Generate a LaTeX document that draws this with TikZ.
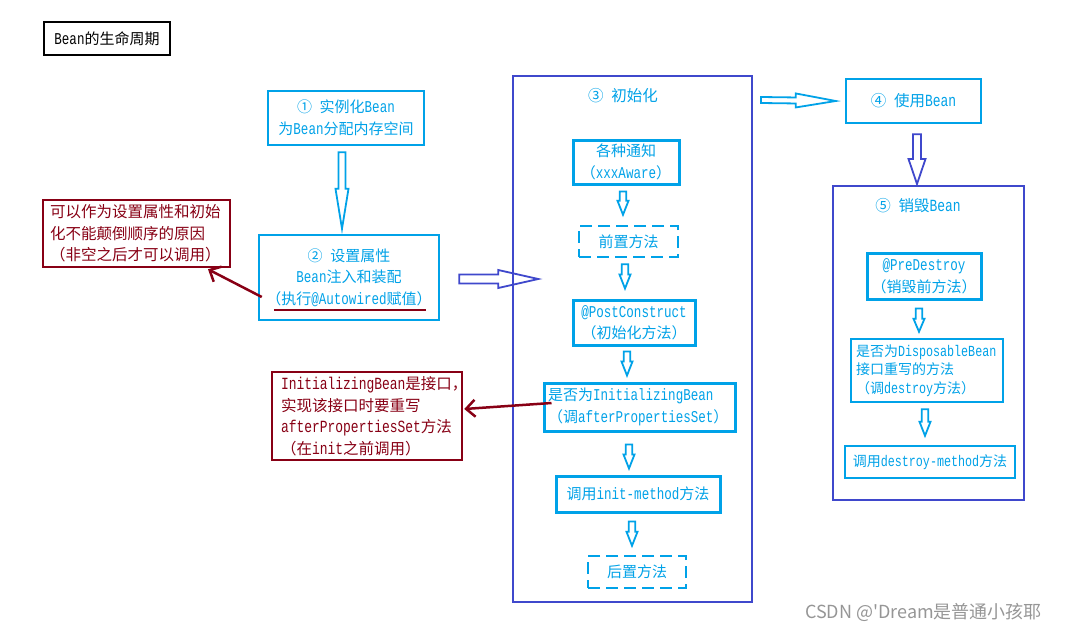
\documentclass[tikz,border=0pt]{standalone}
\usepackage{fontspec}
\setmainfont{Liberation Mono}[Scale=1.1,FakeStretch=0.76]
\newfontfamily\cjkf{Noto Sans CJK SC}
\newfontfamily\wmf{Noto Sans CJK SC}[Ligatures=TeXOff]
\newcommand\C[1]{{\cjkf #1}}
\usetikzlibrary{calc,arrows.meta}
\definecolor{lb}{HTML}{00A2E8}
\definecolor{ind}{HTML}{3F48CC}
\definecolor{dr}{HTML}{880015}
\definecolor{wmc}{RGB}{150,150,150}
% hollow block arrow: #1 style, #2 start, #3 end, #4 shaft half width, #5 head half width, #6 head length
\newcommand\hollowarrow[6]{%
  \coordinate (hc) at ($(#3)!#6pt!(#2)$);
  \draw[#1] ($(#2)!#4pt!90:(#3)$) -- ($(hc)!#4pt!90:(#3)$) -- ($(hc)!#5pt!90:(#3)$)
    -- (#3) -- ($(hc)!#5pt!-90:(#3)$) -- ($(hc)!#4pt!-90:(#3)$) -- ($(#2)!#4pt!-90:(#3)$) -- cycle;
}
\begin{document}
\begin{tikzpicture}[x=1pt,y=-1pt,
  f15/.style={font=\fontsize{15}{21.5}\selectfont},
  box/.style={draw=lb, line width=2.5pt, text=lb, align=center, inner sep=0pt, f15},
  dbox/.style={box, dash pattern=on 12pt off 6pt},
  cont/.style={draw=ind, line width=2pt, inner sep=0pt},
  note/.style={draw=dr, line width=2.5pt, text=dr, align=left, inner ysep=0pt, font=\fontsize{15.5}{21.5}\selectfont},
  lbl/.style={text=lb, inner sep=0pt, font=\fontsize{15.5}{20}\selectfont},
  harr/.style={draw=lb, line width=1.8pt, line join=miter},
  harri/.style={draw=ind, line width=1.8pt, line join=miter},
  rarr/.style={draw=dr, line width=2.5pt, -{Straight Barb[length=9pt,width=17pt]}}
]
\useasboundingbox[fill=white] (0,0) rectangle (1066,632);

% title
\node[draw=black, line width=2.5pt, inner sep=0pt, minimum width=126, minimum height=33, f15] (title) at (107,38.5) {Bean\C{的生命周期}};

% step 1 and 2
\node[box, minimum width=156, minimum height=54] (b1) at (346,118) {\C{①} \C{实例化}Bean\\\C{为}Bean\C{分配内存空间}};
\node[box, minimum width=180, minimum height=85] (b2) at (349,277.5) {\C{②} \C{设置属性}\\Bean\C{注入和装配}\\\C{（执行}@Autowired\C{赋值）}};
\node[note, text width=173, inner xsep=7pt, minimum height=67] (n1) at (136.5,233.5) {\C{可以作为设置属性和初始}\\\C{化不能颠倒顺序的原因}\\\C{（非空之后才可以调用）}};

% init container
\node[cont, minimum width=239, minimum height=526] (init) at (632.5,339) {};
\node[lbl] (initT) at (623,96) {\C{③} \C{初始化}};
\node[box, line width=3pt, minimum width=106, minimum height=44] (aware) at (626,162) {\C{各种通知}\\\C{（}xxxAware\C{）}};
\node[dbox, minimum width=99, minimum height=31] (pre) at (628.5,241.5) {\C{前置方法}};
\node[box, line width=3pt, minimum width=122, minimum height=45] (post) at (634,322.5) {@PostConstruct\\\C{（初始化方法）}};
\node[box, line width=3pt, align=left, text width=183, inner xsep=4pt, minimum height=48] (ib) at (639.5,407) {\C{是否为}InitializingBean\\\C{（调}afterPropertiesSet\C{）}};
\node[box, line width=3pt, minimum width=164, minimum height=36] (initm) at (638,494) {\C{调用}init-method\C{方法}};
\node[dbox, minimum width=98, minimum height=32] (postm) at (637,572) {\C{后置方法}};
\node[note, text width=172, inner xsep=9pt, minimum height=88] (n2) at (367,416) {InitializingBean\C{是接口，}\\\C{实现该接口时要重写}\\afterPropertiesSet\C{方法}\\\C{（在}init\C{之前调用）}};

% use and destroy
\node[box, minimum width=135, minimum height=44, font=\fontsize{15.5}{20}\selectfont] (use) at (913.5,101) {\C{④} \C{使用}Bean};
\node[cont, minimum width=191, minimum height=314] (dc) at (928.5,343) {};
\node[lbl] (dT) at (918,206) {\C{⑤} \C{销毁}Bean};
\node[box, line width=3pt, minimum width=114, minimum height=46] (pred) at (924,276) {@PreDestroy\\\C{（销毁前方法）}};
\node[box, line width=2.5pt, align=left, text width=142, inner xsep=5pt, minimum height=63, font=\fontsize{14}{18.5}\selectfont] (disp) at (927,370.5) {\C{是否为}DisposableBean\\\C{接口重写的方法}\\\C{（调}destroy\C{方法）}};
\node[box, line width=2.5pt, minimum width=170, minimum height=32, font=\fontsize{14}{18}\selectfont] (dm) at (930,462) {\C{调用}destroy-method\C{方法}};

% watermark
\node[text=wmc, inner sep=0pt, font=\wmf\fontsize{18}{20}\selectfont] (wm) at (923.5,612) {CSDN @'Dream是普通小孩耶};

% hollow arrows
\coordinate (a12s) at ($(b1.south)+(-4,6)$);
\coordinate (a12e) at ($(b2.north)+(-7,-5)$);
\hollowarrow{harr}{a12s}{a12e}{3.5}{6.5}{40}
\coordinate (a2is) at ($(b2.east)+(19,1.5)$);
\coordinate (a2ie) at ($(b2.east)+(98,1.5)$);
\hollowarrow{harri}{a2is}{a2ie}{4.5}{9}{40}
\coordinate (aaws) at ($(aware.south)+(-3,6)$);
\coordinate (aawe) at ($(pre.north)+(-5.5,-10)$);
\hollowarrow{harr}{aaws}{aawe}{3.3}{5.5}{14}
\coordinate (apres) at ($(pre.south)+(-3.5,6)$);
\coordinate (apree) at ($(post.north)+(-9,-10)$);
\hollowarrow{harr}{apres}{apree}{3.3}{5.5}{14}
\coordinate (aposts) at ($(post.south)+(-7,5)$);
\coordinate (aposte) at ($(ib.north)+(-12.5,-6)$);
\hollowarrow{harr}{aposts}{aposte}{3.3}{5.5}{14}
\coordinate (aibs) at ($(ib.south)+(-10.5,12)$);
\coordinate (aibe) at ($(initm.north)+(-9,-6)$);
\hollowarrow{harr}{aibs}{aibe}{3.3}{5.5}{14}
\coordinate (aims) at ($(initm.south)+(-6,8)$);
\coordinate (aime) at ($(postm.north)+(-5,-9)$);
\hollowarrow{harr}{aims}{aime}{3.3}{5.5}{14}
\coordinate (ause) at ($(init.north east)+(8,25)$);
\coordinate (ausee) at ($(use.west)+(-9,0)$);
\hollowarrow{harr}{ause}{ausee}{3}{7}{40}
\coordinate (auds) at ($(use.south)+(3.5,10)$);
\coordinate (aude) at ($(dc.north)+(-11.5,-1)$);
\hollowarrow{harri}{auds}{aude}{4}{8.5}{25}
\coordinate (apds) at ($(pred.south)+(-5,8)$);
\coordinate (apde) at ($(disp.north)+(-8,-6)$);
\hollowarrow{harr}{apds}{apde}{3.3}{5.5}{13}
\coordinate (adds) at ($(disp.south)+(-2,6)$);
\coordinate (adde) at ($(dm.north)+(-5,-9)$);
\hollowarrow{harr}{adds}{adde}{3.3}{5.5}{14}

% red underline and arrows
\draw[dr, line width=2pt] ($(b2.south west)+(16,-11)$) -- ($(b2.south east)+(-14,-11)$);
\coordinate (r1s) at ($(b2.west)+(4,19.5)$);
\coordinate (r1e) at ($(n1.south)+(71.5,1)$);
\draw[rarr] (r1s) -- (r1e);
\coordinate (r2s) at ($(ib.west)+(9,-4)$);
\coordinate (r2e) at ($(n2.east)+(1,-7)$);
\draw[rarr] (r2s) -- (r2e);
\end{tikzpicture}
\end{document}
